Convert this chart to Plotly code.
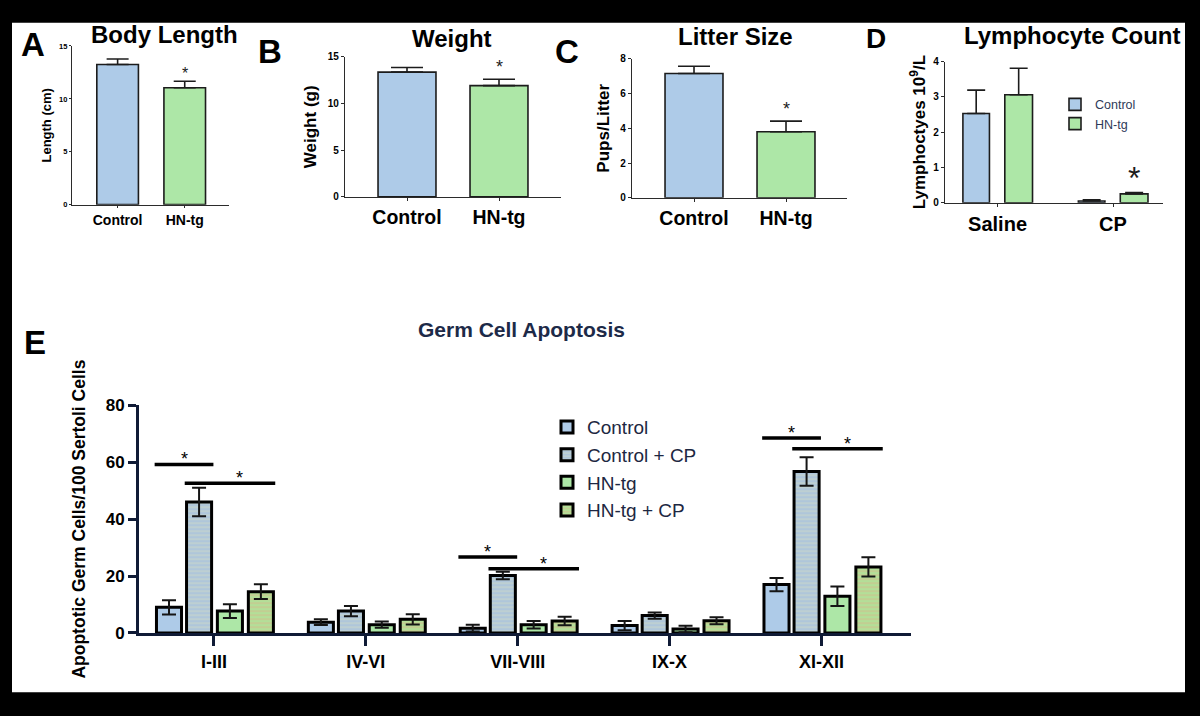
import plotly.graph_objects as go

W, H = 1200, 716


def PX(x):
    return x / W


def PY(y):
    return 1 - y / H


# ---------------- data ----------------
abc_groups = ["Control", "HN-tg"]
length_mean = [13.25, 11.05]
length_err = [0.52, 0.62]
weight_mean = [13.35, 11.9]
weight_err = [0.49, 0.69]
litter_mean = [7.15, 3.8]
litter_err = [0.41, 0.61]

lym_treat = ["Saline", "CP"]
lym_control = [2.53, 0.05]
lym_control_err = [0.66, 0.03]
lym_hntg = [3.06, 0.25]
lym_hntg_err = [0.75, 0.04]

stages = ["I-III", "IV-VI", "VII-VIII", "IX-X", "XI-XII"]
e_names = ["Control", "Control + CP", "HN-tg", "HN-tg + CP"]
e_control = [9.0, 3.8, 1.7, 2.6, 17.0]
e_control_err = [2.5, 1.0, 1.2, 1.6, 2.3]
e_control_cp = [46.0, 7.7, 20.2, 6.1, 56.7]
e_control_cp_err = [5.0, 1.8, 1.3, 1.1, 5.0]
e_hntg = [7.7, 2.9, 2.9, 1.4, 12.9]
e_hntg_err = [2.4, 1.1, 1.3, 1.1, 3.4]
e_hntg_cp = [14.5, 4.8, 4.2, 4.3, 23.2]
e_hntg_cp_err = [2.6, 1.8, 1.5, 1.2, 3.4]

sig_stage_idx = [0, 2, 4]
sig_level_vs_control = [59.2, 26.7, 68.5]
sig_level_vs_hntg = [52.6, 22.6, 64.7]

# ---------------- styles ----------------
FONT = "Liberation Sans, Arial, Helvetica, sans-serif"
CTRL = "#aecbe8"
HNTG = "#ade7a7"
EDGE = "#1c1c1c"
NAVY = "#101b36"
AX = "#2b2b2b"

fig = go.Figure()


def simple_bar(x, y, err, xa, ya, width, capw):
    fig.add_trace(go.Bar(
        x=x, y=y, width=width,
        marker=dict(color=[CTRL, HNTG], line=dict(color=EDGE, width=1.6)),
        error_y=dict(type="data", array=err, arrayminus=[0] * len(err), symmetric=False,
                     color=EDGE, thickness=1.6, width=capw),
        xaxis=xa, yaxis=ya, showlegend=False, hoverinfo="x+y"))


simple_bar(abc_groups, length_mean, length_err, "x", "y", 0.62, 11)
simple_bar(abc_groups, weight_mean, weight_err, "x2", "y2", 0.63, 16)
simple_bar(abc_groups, litter_mean, litter_err, "x3", "y3", 0.63, 16)

# Panel D
fig.add_trace(go.Bar(
    name="Control", x=lym_treat, y=lym_control, width=0.23, offset=-0.30,
    marker=dict(color=CTRL, line=dict(color=EDGE, width=1.6)),
    error_y=dict(type="data", array=lym_control_err, arrayminus=[0, 0], symmetric=False,
                 color=EDGE, thickness=1.6, width=9),
    xaxis="x4", yaxis="y4", legend="legend2"))
fig.add_trace(go.Bar(
    name="HN-tg", x=lym_treat, y=lym_hntg, width=0.24, offset=0.063,
    marker=dict(color=HNTG, line=dict(color=EDGE, width=1.6)),
    error_y=dict(type="data", array=lym_hntg_err, arrayminus=[0, 0], symmetric=False,
                 color=EDGE, thickness=1.6, width=9),
    xaxis="x4", yaxis="y4", legend="legend2"))

# Panel E
e_vals = [e_control, e_control_cp, e_hntg, e_hntg_cp]
e_errs = [e_control_err, e_control_cp_err, e_hntg_err, e_hntg_cp_err]
e_offsets = [-0.378, -0.18, 0.023, 0.227]
E_W = 0.165
e_markers = [
    dict(color=CTRL, line=dict(color="black", width=3)),
    dict(color="#afc6da", line=dict(color="black", width=3),
         pattern=dict(shape="-", fgcolor="#d3dcc6", bgcolor="#afc6da", size=4, solidity=0.4)),
    dict(color=HNTG, line=dict(color="black", width=3)),
    dict(color="#b3df98", line=dict(color="black", width=3),
         pattern=dict(shape="-", fgcolor="#d9b489", bgcolor="#b3df98", size=4, solidity=0.4)),
]
for i, name in enumerate(e_names):
    fig.add_trace(go.Bar(
        name=name, x=stages, y=e_vals[i], width=E_W, offset=e_offsets[i],
        marker=e_markers[i],
        error_y=dict(type="data", array=e_errs[i], color="#151515", thickness=2, width=7),
        xaxis="x5", yaxis="y5", legend="legend", legendgroup=name))

shapes = [dict(type="rect", xref="paper", yref="paper", x0=PX(12), x1=PX(1185),
               y0=PY(702), y1=PY(14), fillcolor="white", line=dict(width=0), layer="below")]
annotations = []

for k, idx in enumerate(sig_stage_idx):
    xa0 = idx + e_offsets[0] - 0.012
    xa1 = idx + e_offsets[1] + E_W + 0.012
    xb0 = idx + e_offsets[1] - 0.012
    xb1 = idx + e_offsets[3] + E_W + 0.012
    for (x0, x1, lvl, xs) in [(xa0, xa1, sig_level_vs_control[k], 0),
                              (xb0, xb1, sig_level_vs_hntg[k], 10)]:
        shapes.append(dict(type="line", xref="x5", yref="y5", x0=x0, x1=x1, y0=lvl, y1=lvl,
                           line=dict(color="black", width=3.5)))
        annotations.append(dict(xref="x5", yref="y5", x=(x0 + x1) / 2, y=lvl, text="*",
                                showarrow=False, yanchor="middle", yshift=5, xshift=xs,
                                font=dict(size=18, color="black", family=FONT)))

# stars A-D
for xa, ya, val, err, fs, ys in [("x", "y", length_mean[1], length_err[1], 16, 8),
                                 ("x2", "y2", weight_mean[1], weight_err[1], 18, 12),
                                 ("x3", "y3", litter_mean[1], litter_err[1], 18, 12)]:
    annotations.append(dict(xref=xa, yref=ya, x=1, y=val + err, text="*", showarrow=False,
                            yanchor="middle", yshift=ys, font=dict(size=fs, color=EDGE, family=FONT)))
annotations.append(dict(xref="x4", yref="y4", x=1 + 0.063 + 0.12, y=lym_hntg[1] + lym_hntg_err[1],
                        text="*", showarrow=False, yanchor="middle", yshift=14,
                        font=dict(size=32, color=EDGE, family=FONT)))

# titles and panel letters
for txt, x, y, fs, col in [("Body Length", 164, 26, 24, "black"),
                           ("Weight", 452, 30, 24, "black"),
                           ("Litter Size", 735, 28, 24, "black"),
                           ("Lymphocyte Count", 1072, 27, 24, "black"),
                           ("Germ Cell Apoptosis", 521, 329, 21, "#1d2a48")]:
    annotations.append(dict(xref="paper", yref="paper", x=PX(x), y=PY(y), text=f"<b>{txt}</b>",
                            showarrow=False, xanchor="center", yanchor="middle",
                            font=dict(size=fs, color=col, family=FONT)))
for txt, x, y, fs in [("A", 33, 36, 33), ("B", 270, 44, 33), ("C", 567, 44, 33),
                      ("D", 876, 30, 28), ("E", 35, 343, 33)]:
    annotations.append(dict(xref="paper", yref="paper", x=PX(x), y=PY(y), text=f"<b>{txt}</b>",
                            showarrow=False, xanchor="center", yanchor="middle",
                            font=dict(size=fs, color="black", family=FONT)))


def xax(dom, rng, anchor, fs, lw=1.2, col=AX, tl=3, tw=1):
    return dict(domain=[PX(dom[0]), PX(dom[1])], range=rng, type="category", anchor=anchor,
                showline=True, linecolor=col, linewidth=lw, ticks="outside", ticklen=tl,
                tickwidth=tw, tickcolor=col, showgrid=False, zeroline=False, fixedrange=True,
                tickfont=dict(size=fs, color="black", family=FONT, weight="bold"))


def yax(dom, rng, anchor, dtick, fs, title, tfs, standoff, lw=1.2, col=AX, tl=3, tw=1):
    return dict(domain=[PY(dom[1]), PY(dom[0])], range=rng, anchor=anchor, dtick=dtick,
                showline=True, linecolor=col, linewidth=lw, ticks="outside", ticklen=tl,
                tickwidth=tw, tickcolor=col, showgrid=False, zeroline=False, fixedrange=True,
                tickfont=dict(size=fs, color="black", family=FONT, weight="bold"),
                title=dict(text=f"<b>{title}</b>", standoff=standoff,
                           font=dict(size=tfs, color="black", family=FONT)))


fig.update_layout(
    width=W, height=H, margin=dict(l=0, r=0, t=0, b=0),
    paper_bgcolor="black", plot_bgcolor="white",
    barmode="overlay", font=dict(family=FONT),
    xaxis=xax((72, 229), [-0.68, 1.66], "y", 14, tl=2),
    yaxis=yax((38, 201), [0, 15], "x", 5, 7.5, "Length (cm)", 13, 4, tl=2),
    xaxis2=xax((345, 561), [-0.674, 1.674], "y2", 19.5),
    yaxis2=yax((49, 193), [0, 15], "x2", 5, 10, "Weight (g)", 17, 6),
    xaxis3=xax((632, 847), [-0.674, 1.663], "y3", 19.5),
    yaxis3=yax((51, 194), [0, 8], "x3", 2, 10, "Pups/Litter", 17, 6),
    xaxis4=xax((945, 1163), [-0.455, 1.433], "y4", 20),
    yaxis4=yax((54, 199), [0, 4], "x4", 1, 10, "Lymphoctyes 10<sup>9</sup>/L", 17, 3),
    xaxis5=xax((139, 911), [-0.493, 4.59], "y5", 18, lw=3, col=NAVY, tl=10, tw=3),
    yaxis5=yax((407, 641), [0, 80], "x5", 20, 17, "Apoptotic Germ Cells/100 Sertoli Cells", 17.5, 16,
               lw=3, col=NAVY, tl=8, tw=3),
    legend=dict(x=PX(547), y=PY(410), xanchor="left", yanchor="top", bgcolor="rgba(0,0,0,0)",
                font=dict(size=19, color="#1d2742", family=FONT), tracegroupgap=3,
                traceorder="normal"),
    legend2=dict(x=PX(1055), y=PY(83), xanchor="left", yanchor="top", bgcolor="rgba(0,0,0,0)",
                 font=dict(size=12.5, color="#2e3a59", family=FONT)),
    shapes=shapes, annotations=annotations,
)

fig.write_html("out.html", config={"displayModeBar": False},
               post_script="document.body.style.margin='0px';document.body.style.background='black';")
